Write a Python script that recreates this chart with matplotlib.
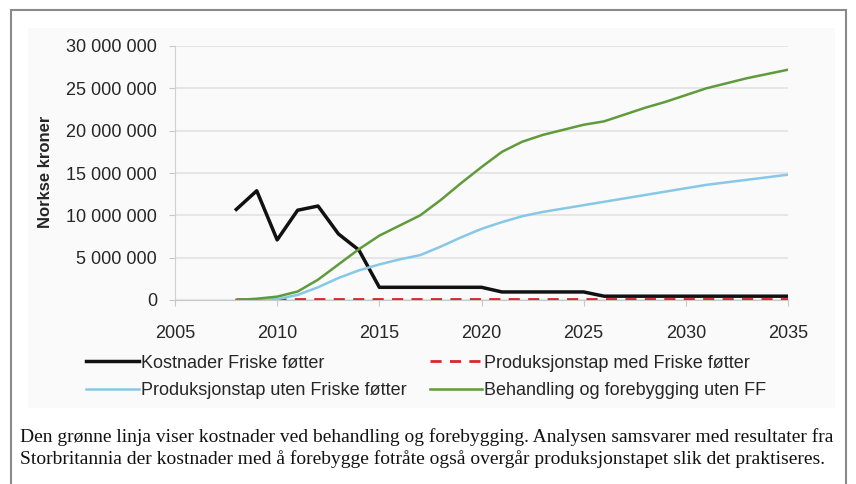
import matplotlib.pyplot as plt
from matplotlib.patches import Rectangle
from matplotlib.ticker import FuncFormatter, MultipleLocator

years = list(range(2008, 2036))

# values in millions of NOK
kostnader_ff = [10.7, 12.9, 7.1, 10.6, 11.1, 7.8, 5.9,
                1.5, 1.5, 1.5, 1.5, 1.5, 1.5,
                0.95, 0.95, 0.95, 0.95, 0.95,
                0.45, 0.45, 0.45, 0.45, 0.45, 0.45, 0.45, 0.45, 0.45, 0.45]
prodtap_med_ff = [0.15] * len(years)
prodtap_uten_ff = [0.0, 0.05, 0.1, 0.6, 1.5, 2.6, 3.5, 4.2, 4.8, 5.3, 6.3, 7.4, 8.4, 9.2,
                   9.9, 10.4, 10.8, 11.2, 11.6, 12.0, 12.4, 12.8, 13.2, 13.6, 13.9, 14.2, 14.5, 14.8]
behandling_uten_ff = [0.0, 0.15, 0.4, 1.0, 2.4, 4.2, 6.0, 7.6, 8.8, 10.0, 11.8, 13.8, 15.7, 17.5,
                      18.7, 19.5, 20.1, 20.7, 21.1, 21.9, 22.7, 23.4, 24.2, 25.0, 25.6, 26.2, 26.7, 27.2]

labels = ["Kostnader Friske føtter", "Produksjonstap med Friske føtter",
          "Produksjonstap uten Friske føtter", "Behandling og forebygging uten FF"]

caption = ("Den grønne linja viser kostnader ved behandling og forebygging. Analysen samsvarer med resultater fra\n"
           "Storbritannia der kostnader med å forebygge fotråte også overgår produksjonstapet slik det praktiseres.")

plt.rcParams['font.family'] = ['Liberation Sans', 'DejaVu Sans']

fig = plt.figure(figsize=(8.56, 4.84), dpi=100)
W, H = 856, 484

# outer frame and faint chart background
fig.patches.append(Rectangle((11 / W, -0.05), 835 / W, 1 - 10 / H + 0.05, transform=fig.transFigure,
                             fill=False, edgecolor='#8a8a8a', linewidth=1.5))
fig.patches.append(Rectangle((28 / W, 1 - 408 / H), 807 / W, 380 / H, transform=fig.transFigure,
                             facecolor='#fafafa', edgecolor='none', zorder=-1))

ax = fig.add_axes([175 / W, 1 - 300 / H, 613 / W, 254 / H])
ax.set_facecolor('none')

def mill(vals):
    return [v * 1e6 for v in vals]

l1, = ax.plot(years, mill(kostnader_ff), color='#111111', lw=2.5, zorder=3)
l2, = ax.plot(years, mill(prodtap_med_ff), color='#d9262b', lw=2.0, ls=(0, (4, 3)), zorder=4)
l3, = ax.plot(years, mill(prodtap_uten_ff), color='#86c8e6', lw=1.8, zorder=5)
l4, = ax.plot(years, mill(behandling_uten_ff), color='#5f9b3b', lw=1.8, zorder=6)

ax.set_xlim(2005, 2035)
ax.set_ylim(0, 30e6)
ax.xaxis.set_major_locator(MultipleLocator(5))
ax.yaxis.set_major_locator(MultipleLocator(5e6))
ax.yaxis.set_major_formatter(FuncFormatter(lambda v, p: f"{int(v):,}".replace(",", " ")))

ax.grid(axis='y', color='#e6e6e6', lw=1.5)
ax.set_axisbelow(True)
for s in ['top', 'right']:
    ax.spines[s].set_visible(False)
ax.spines['left'].set_color('#d0d0d0')
ax.spines['bottom'].set_color('#c8c8c8')
ax.tick_params(axis='both', colors='#c8c8c8', labelcolor='#262626', labelsize=13, length=4)
ax.tick_params(axis='x', pad=14)
ax.tick_params(axis='y', pad=9)

fig.text(45 / W, 1 - 172 / H, "Norkse kroner", rotation=90, fontsize=12, fontweight='bold',
         color='#262626', ha='center', va='center')

# legend fills column by column, so order handles to read row by row
fig.legend([l1, l3, l2, l4], [labels[0], labels[2], labels[1], labels[3]], ncol=2, loc='center left',
           bbox_to_anchor=(70 / W, 1 - 377 / H), frameon=False, fontsize=13,
           handlelength=2.9, handletextpad=0.12, columnspacing=1.3, labelspacing=0.6,
           labelcolor='#262626')

fig.text(20 / W, 1 - 448 / H, caption, fontsize=14, family=['Liberation Serif', 'DejaVu Serif'],
         ha='left', va='center', linespacing=1.3, color='#111111')

fig.savefig('out.png', dpi=100)
